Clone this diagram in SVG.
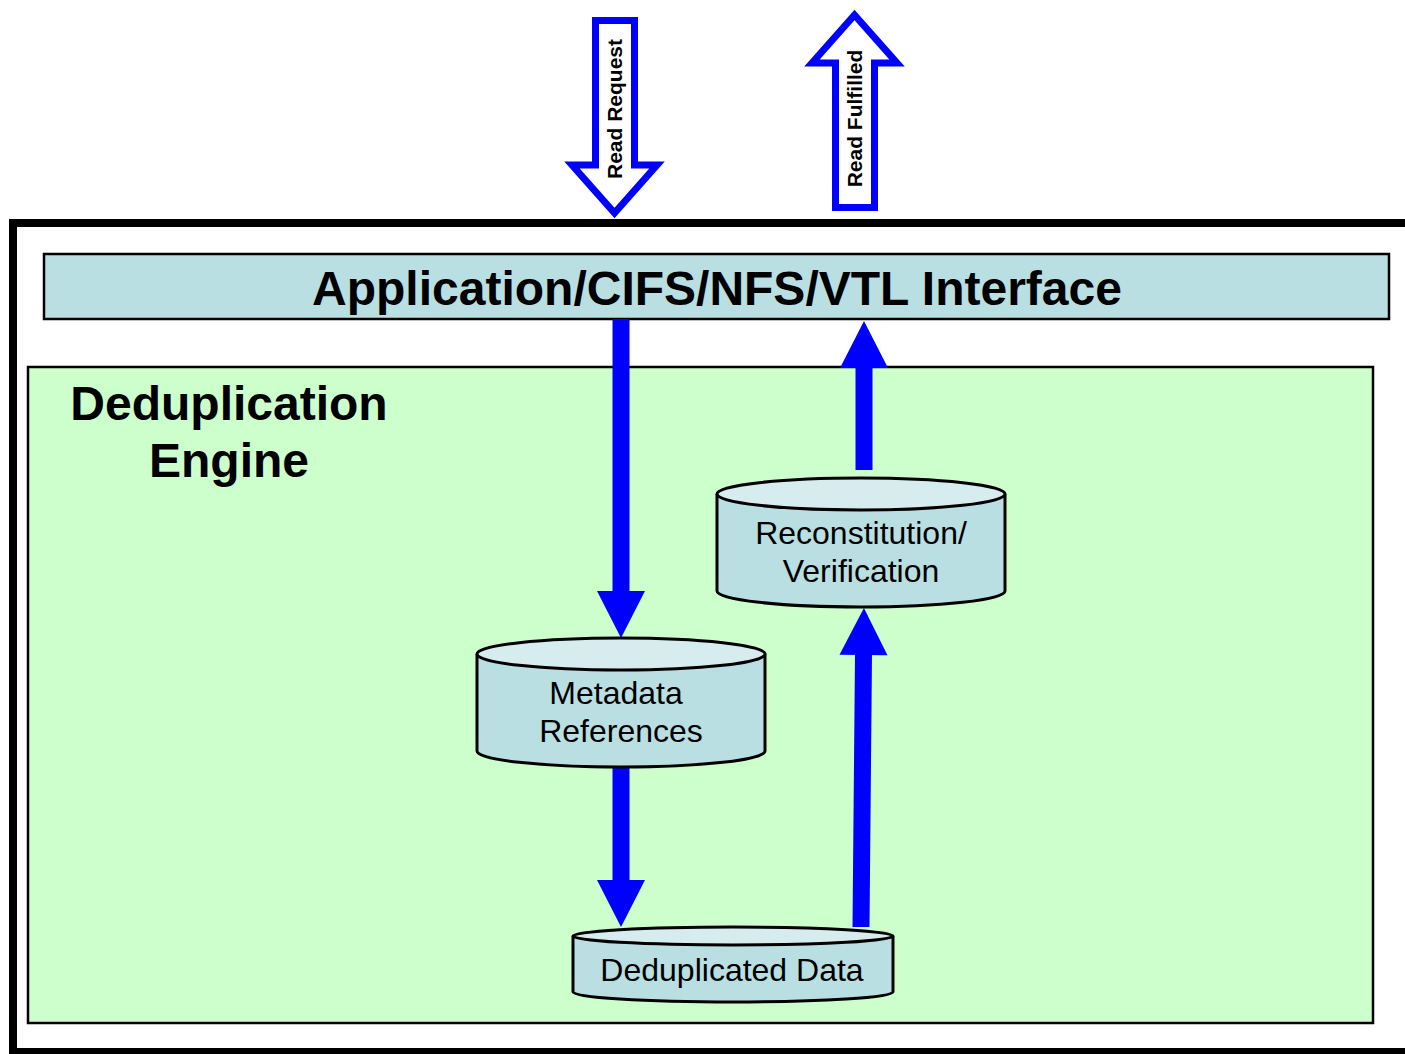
<svg xmlns="http://www.w3.org/2000/svg" width="1405" height="1054" viewBox="0 0 1405 1054">
<style>
.t{font-family:"Liberation Sans",Arial,sans-serif;fill:#000}
.b{font-weight:bold}
.cyl{fill:#b9dfe2;stroke:#000;stroke-width:3}
.top{fill:#d6ecef;stroke:#000;stroke-width:3}
.conn{stroke:#0000ff;stroke-width:17;fill:none}
.hollow{fill:#fff;stroke:#0000ff;stroke-width:7;stroke-linejoin:miter}
</style>
<defs>
<marker id="ah" markerUnits="userSpaceOnUse" markerWidth="47" markerHeight="48" viewBox="0 0 47 48" refX="1" refY="24" orient="auto" overflow="visible">
<path d="M0,0 L47,24 L0,48 Z" fill="#0000ff"/>
</marker>
</defs>
<rect width="1405" height="1054" fill="#fff"/>
<g id="frame">
<path d="M1410,223 H13 V1052 H1410" fill="none" stroke="#000" stroke-width="8"/>
</g>
<g id="engine">
<rect x="28" y="367" width="1345" height="656" fill="#ccffcc" stroke="#000" stroke-width="2.5"/>
<text class="t b" x="229" y="420" font-size="48" text-anchor="middle">Deduplication</text>
<text class="t b" x="229" y="477" font-size="48" text-anchor="middle">Engine</text>
</g>
<g id="interface">
<rect x="44" y="254" width="1345" height="65" fill="#b9dfe2" stroke="#000" stroke-width="2.5"/>
<text class="t b" x="717" y="305" font-size="48" text-anchor="middle">Application/CIFS/NFS/VTL Interface</text>
</g>
<g id="read-request">
<polygon class="hollow" points="595.5,20.5 634.5,20.5 634.5,165 657,165 614.5,213 572,165 595.5,165"/>
<text class="t b" font-size="21" text-anchor="middle" transform="translate(622,109) rotate(-90)">Read Request</text>
</g>
<g id="read-fulfilled">
<polygon class="hollow" points="835.5,207.5 874.5,207.5 874.5,63 897,63 854.5,15 812,63 835.5,63"/>
<text class="t b" font-size="21" text-anchor="middle" transform="translate(862,118.5) rotate(-90)">Read Fulfilled</text>
</g>
<g id="connectors">
<line class="conn" x1="621" y1="319" x2="621" y2="592" marker-end="url(#ah)"/>
<line class="conn" x1="621" y1="767" x2="621" y2="881" marker-end="url(#ah)"/>
<line class="conn" x1="861" y1="927" x2="863.5" y2="654" marker-end="url(#ah)"/>
<line class="conn" x1="864" y1="470" x2="864" y2="367" marker-end="url(#ah)"/>
</g>
<g id="metadata">
<path class="cyl" d="M477,654 V751 A144,16 0 0 0 765,751 V654"/>
<ellipse class="top" cx="621" cy="654" rx="144" ry="16"/>
<text class="t" x="616" y="704" font-size="32" text-anchor="middle">Metadata</text>
<text class="t" x="621" y="742" font-size="32" text-anchor="middle">References</text>
</g>
<g id="reconstitution">
<path class="cyl" d="M717,494 V591 A144,16 0 0 0 1005,591 V494"/>
<ellipse class="top" cx="861" cy="494" rx="144" ry="16"/>
<text class="t" x="861" y="544" font-size="32" text-anchor="middle">Reconstitution/</text>
<text class="t" x="861" y="582" font-size="32" text-anchor="middle">Verification</text>
</g>
<g id="deduplicated">
<path class="cyl" d="M573,936 V992 A160,10 0 0 0 893,992 V936"/>
<ellipse class="top" cx="733" cy="936" rx="160" ry="9"/>
<text class="t" x="732" y="981" font-size="32" text-anchor="middle">Deduplicated Data</text>
</g>
</svg>
